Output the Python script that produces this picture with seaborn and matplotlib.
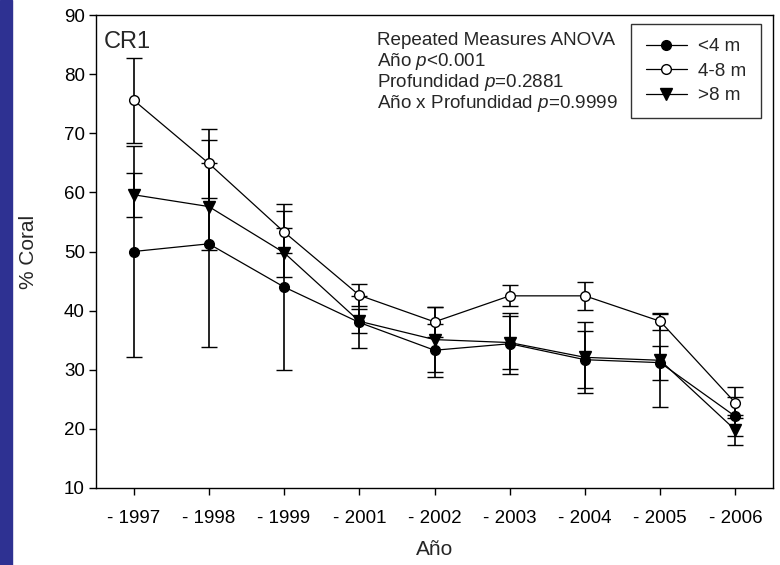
import numpy as np
import matplotlib
matplotlib.use('Agg')
import matplotlib.pyplot as plt
import seaborn as sns
from matplotlib.patches import Rectangle

sns.set_style('ticks')
plt.rcParams['font.family'] = ['Liberation Sans', 'DejaVu Sans']
plt.rcParams['mathtext.fontset'] = 'custom'
plt.rcParams['mathtext.rm'] = 'Liberation Sans'
plt.rcParams['mathtext.it'] = 'Liberation Sans:italic'

# data (mean and error per depth)
years = ['1997', '1998', '1999', '2001', '2002', '2003', '2004', '2005', '2006']
tick_labels = ['- ' + y for y in years]

shallow_mean = [50.0, 51.3, 44.0, 38.0, 33.3, 34.4, 31.7, 31.2, 22.1]
shallow_err = [17.8, 17.5, 14.1, 4.4, 4.5, 5.2, 4.8, 2.9, 3.3]
mid_mean = [75.6, 64.9, 53.3, 42.6, 38.1, 42.5, 42.5, 38.2, 24.4]
mid_err = [7.2, 5.8, 3.5, 1.9, 2.5, 1.8, 2.4, 1.4, 2.6]
deep_mean = [59.6, 57.6, 49.8, 38.2, 35.1, 34.6, 32.1, 31.6, 19.8]
deep_err = [3.7, 7.4, 4.1, 2.0, 5.5, 4.5, 6.0, 7.9, 2.6]

series = [
    ('<4 m', shallow_mean, shallow_err, 'o', 'black', 7),
    ('4-8 m', mid_mean, mid_err, 'o', 'white', 7),
    ('>8 m', deep_mean, deep_err, 'v', 'black', 8),
]

fig = plt.figure(figsize=(7.8, 5.65), dpi=100)
ax = fig.add_axes([96 / 780, 1 - 488 / 565, 677 / 780, 473 / 565])

# blue strip on the left edge
fig.patches.append(Rectangle((0, 0), 12 / 780, 1, transform=fig.transFigure,
                             color='#2E3192', zorder=0))

x_pos = np.arange(len(years))
for label, mean, err, marker, face, msize in series:
    ax.errorbar(x_pos, mean, yerr=err, fmt='none', ecolor='black',
                elinewidth=1.2, capsize=6, capthick=1.0, zorder=1)
for label, mean, err, marker, face, msize in series:
    sns.lineplot(x=x_pos, y=mean, ax=ax, color='black', linewidth=0.9,
                 marker=marker, markersize=msize, markerfacecolor=face,
                 markeredgecolor='black', markeredgewidth=1.0,
                 label=label, zorder=3)

ax.set_xlim(-0.5, len(years) - 0.5)
ax.set_ylim(10, 90)
ax.set_xticks(x_pos)
ax.set_xticklabels(tick_labels)
ax.set_yticks(range(10, 91, 10))
ax.tick_params(axis='both', direction='out', length=5, width=1.0,
               colors='black', labelsize=13.5)
ax.tick_params(axis='x', pad=11)
ax.tick_params(axis='y', pad=3)
for sp in ax.spines.values():
    sp.set_visible(True)
    sp.set_color('black')
    sp.set_linewidth(1.0)

ax.set_ylabel('% Coral', fontsize=15)
ax.yaxis.set_label_coords(-0.085, 0.5)
ax.set_xlabel('Año', fontsize=15)
ax.xaxis.set_label_coords(0.5, -0.11)

ax.text(0.012, 0.966, 'CR1', transform=ax.transAxes, fontsize=17,
        ha='left', va='top')

anova_lines = ['Repeated Measures ANOVA',
               'Año $p$<0.001',
               'Profundidad $p$=0.2881',
               'Año x Profundidad $p$=0.9999']
for i, line in enumerate(anova_lines):
    ax.text(0.4146, 0.9366 - i * 0.0444, line, transform=ax.transAxes,
            fontsize=13.6, ha='left', va='baseline')

leg = ax.legend(loc='upper right', bbox_to_anchor=(0.982, 0.981),
                borderaxespad=0, frameon=True, fancybox=False,
                fontsize=13.6, handlelength=2.2, handletextpad=0.6,
                labelspacing=0.38, borderpad=0.75)
leg.get_frame().set_edgecolor('black')
leg.get_frame().set_linewidth(1.0)

fig.savefig('out.png', dpi=100)
